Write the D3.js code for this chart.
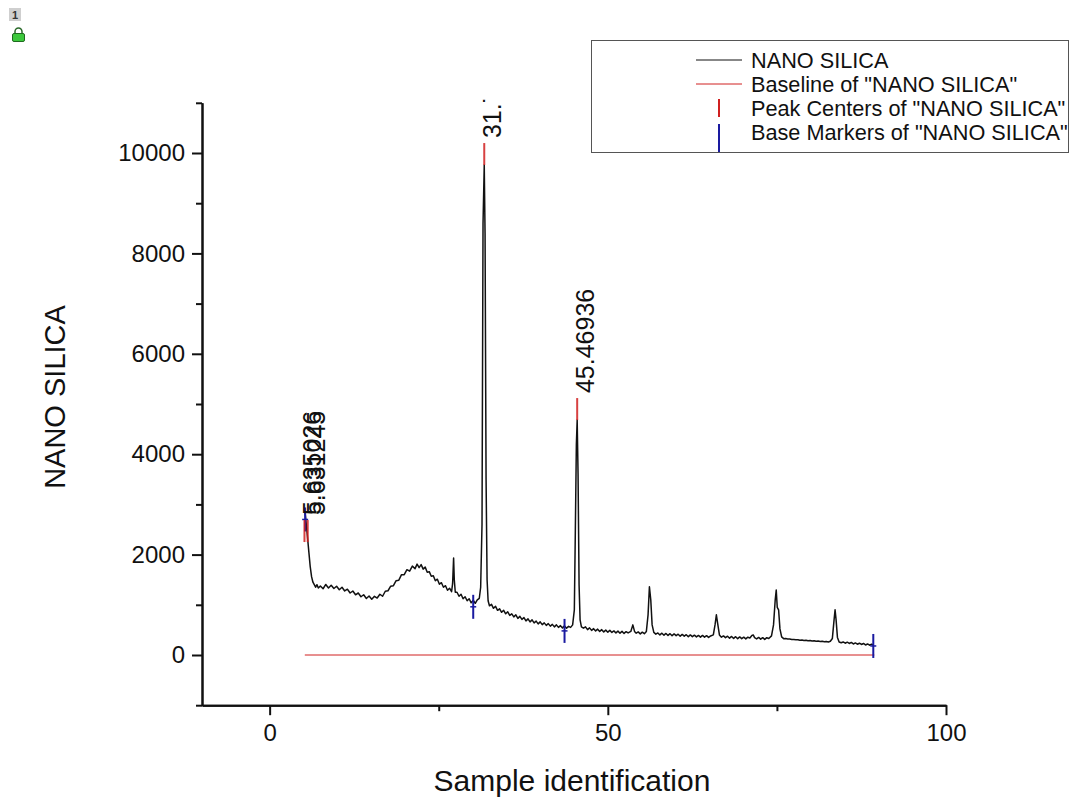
<!DOCTYPE html>
<html>
<head>
<meta charset="utf-8">
<script src="https://cdn.jsdelivr.net/npm/d3@7"></script>
<style>
  body { margin: 0; background: #fff; }
  text { font-family: "Liberation Sans", Arial, sans-serif; fill: #111; }
</style>
</head>
<body>
<script>
// Datos (2theta vs intensidad)
const spectrum = [
  [5.2, 2880], [5.3, 2760], [5.45, 2560], [5.63, 2300], [5.8, 2050], [6.0, 1760], [6.2, 1560],
  [6.4, 1450], [6.6, 1400], [6.8, 1350], [7.0, 1400], [7.2, 1335], [7.5, 1375], [7.9, 1320],
  [8.3, 1405], [8.7, 1335], [9.1, 1390], [9.5, 1325], [9.9, 1370], [10.3, 1300], [10.7, 1350],
  [11.1, 1275], [11.5, 1310], [11.9, 1235], [12.3, 1275], [12.7, 1200], [13.1, 1235], [13.5, 1160],
  [13.9, 1200], [14.3, 1125], [14.7, 1175], [15.1, 1110], [15.5, 1170], [15.9, 1135], [16.3, 1210],
  [16.7, 1170], [17.1, 1270], [17.5, 1280], [17.9, 1370], [18.3, 1380], [18.7, 1480], [19.1, 1490],
  [19.5, 1600], [19.9, 1600], [20.3, 1700], [20.7, 1670], [21.1, 1770], [21.5, 1720], [21.8, 1810],
  [22.1, 1740], [22.4, 1800], [22.7, 1710], [23.0, 1750], [23.3, 1650], [23.6, 1660], [23.9, 1570],
  [24.2, 1580], [24.5, 1480], [24.8, 1510], [25.1, 1410], [25.4, 1440], [25.7, 1350], [26.0, 1380],
  [26.3, 1290], [26.6, 1330], [26.9, 1260], [27.05, 1420], [27.2, 1930], [27.3, 1500], [27.45, 1250],
  [27.7, 1250], [28.0, 1170], [28.3, 1210], [28.6, 1120], [28.9, 1160], [29.2, 1080], [29.5, 1120],
  [29.8, 1040], [30.1, 1090], [30.4, 1030], [30.7, 1100], [31.0, 1130], [31.2, 1350], [31.4, 2600],
  [31.55, 8600], [31.73, 9760], [31.85, 8400], [32.0, 3500], [32.15, 1500], [32.3, 1080], [32.5, 980],
  [32.8, 1010], [33.1, 930], [33.4, 970], [33.7, 890], [34.0, 920], [34.3, 850], [34.6, 890],
  [34.9, 820], [35.2, 860], [35.5, 790], [35.8, 820], [36.1, 760], [36.4, 800], [36.7, 730],
  [37.0, 770], [37.3, 710], [37.6, 745], [37.9, 680], [38.2, 720], [38.5, 660], [38.8, 700],
  [39.1, 640], [39.4, 675], [39.7, 620], [40.0, 660], [40.3, 605], [40.6, 640], [40.9, 590],
  [41.2, 625], [41.5, 575], [41.8, 610], [42.1, 560], [42.4, 600], [42.7, 550], [43.0, 585],
  [43.3, 540], [43.6, 580], [43.9, 535], [44.2, 570], [44.5, 550], [44.8, 600], [45.05, 900],
  [45.2, 2500], [45.35, 4200], [45.47, 4680], [45.6, 3600], [45.75, 1400], [45.9, 700], [46.1, 560],
  [46.4, 535], [46.7, 560], [47.0, 505], [47.3, 540], [47.6, 490], [47.9, 525], [48.2, 480],
  [48.5, 515], [48.8, 470], [49.1, 505], [49.4, 460], [49.7, 495], [50.0, 455], [50.3, 490],
  [50.6, 450], [50.9, 480], [51.2, 440], [51.5, 475], [51.8, 435], [52.1, 470], [52.4, 430],
  [52.7, 465], [53.0, 440], [53.4, 470], [53.7, 600], [53.95, 470], [54.2, 435], [54.5, 460],
  [54.8, 420], [55.1, 455], [55.4, 425], [55.7, 470], [55.95, 800], [56.15, 1360], [56.35, 1100],
  [56.55, 600], [56.8, 450], [57.1, 415], [57.4, 440], [57.7, 400], [58.0, 435], [58.3, 395],
  [58.6, 430], [58.9, 390], [59.2, 425], [59.5, 385], [59.8, 420], [60.1, 385], [60.4, 415],
  [60.7, 375], [61.0, 410], [61.3, 375], [61.6, 405], [61.9, 365], [62.2, 400], [62.5, 365],
  [62.8, 395], [63.1, 360], [63.4, 390], [63.7, 355], [64.0, 390], [64.3, 355], [64.6, 385],
  [64.9, 350], [65.2, 380], [65.6, 400], [65.85, 600], [66.05, 800], [66.25, 620], [66.5, 400],
  [66.8, 355], [67.1, 380], [67.4, 345], [67.7, 375], [68.0, 335], [68.3, 370], [68.6, 330],
  [68.9, 365], [69.2, 325], [69.5, 360], [69.8, 325], [70.1, 355], [70.4, 320], [70.7, 355],
  [71.0, 340], [71.3, 390], [71.5, 400], [71.7, 345], [72.0, 320], [72.3, 350], [72.6, 315],
  [72.9, 345], [73.2, 310], [73.5, 345], [73.8, 330], [74.2, 380], [74.5, 600], [74.75, 1100],
  [74.9, 1295], [75.05, 950], [75.25, 900], [75.45, 520], [75.7, 360], [76.0, 325], [76.3, 330],
  [76.6, 320], [76.9, 320], [77.2, 310], [77.5, 310], [77.8, 305], [78.1, 305], [78.4, 295],
  [78.7, 300], [79.0, 290], [79.3, 295], [79.6, 285], [79.9, 290], [80.2, 280], [80.5, 285],
  [80.8, 275], [81.1, 280], [81.4, 270], [81.7, 275], [82.0, 265], [82.3, 270], [82.6, 260],
  [82.9, 275], [83.2, 330], [83.45, 700], [83.6, 900], [83.75, 700], [83.95, 350], [84.2, 260],
  [84.5, 245], [84.8, 260], [85.1, 235], [85.4, 255], [85.7, 230], [86.0, 250], [86.3, 220],
  [86.6, 240], [86.9, 215], [87.2, 235], [87.5, 210], [87.8, 230], [88.1, 200], [88.4, 220],
  [88.7, 195], [89.0, 215], [89.3, 195]
];

const baselineX = [5.2, 89.4];
const baselineY = [0, 0];

const peakX = [5.15, 5.63, 31.73, 45.47];
const peakY = [2250, 2250, 9760, 4680];
const peakLabels = ["5.635026", "5.631245", "31.73556", "45.46936"];

const baseX = [5.25, 30.1, 43.6, 89.25];
const baseY = [2700, 960, 480, 180];

const xMajor = [0, 50, 100];
const xMinor = [25, 75];
const yMajor = [0, 2000, 4000, 6000, 8000, 10000];
const yMinor = [-1000, 1000, 3000, 5000, 7000, 9000, 11000];

const legendItems = [
  "NANO SILICA",
  'Baseline of "NANO SILICA"',
  'Peak Centers of "NANO SILICA"',
  'Base Markers of "NANO SILICA"'
];

const WIDTH = 1071;
const HEIGHT = 798;
const PLOT = { left: 202, right: 946, top: 102.8, bottom: 705.2 };

const svg = d3.select("body")
  .append("svg")
  .attr("width", WIDTH)
  .attr("height", HEIGHT);

const escalaX = d3.scaleLinear().domain([-10, 100]).range([PLOT.left, PLOT.right]);
const escalaY = d3.scaleLinear().domain([-1000, 11000]).range([PLOT.bottom, PLOT.top]);

// icono de la esquina (capa 1 + candado)
const icono = svg.append("g");
icono.append("rect").attr("x", 9).attr("y", 8).attr("width", 12).attr("height", 13).attr("fill", "#cfcfcf");
icono.append("text").attr("x", 15).attr("y", 19).attr("text-anchor", "middle")
  .style("font-size", "11px").style("font-weight", "bold").style("fill", "#333").text("1");
icono.append("path").attr("d", "M15,34 v-2.5 a3.5,3.5 0 0 1 7,0 v2.5")
  .attr("fill", "none").attr("stroke", "#2a6a2a").attr("stroke-width", 1.5);
icono.append("rect").attr("x", 12.5).attr("y", 33.5).attr("width", 12).attr("height", 8).attr("rx", 1.5)
  .attr("fill", "#3cc83c").attr("stroke", "#1f6a1f");

// ejes
const contenedorEjeY = svg.append("g").attr("transform", `translate(${PLOT.left}, 0)`);
contenedorEjeY.call(d3.axisLeft(escalaY).tickValues(yMajor).tickSize(10).tickSizeOuter(0)
  .tickPadding(7).tickFormat(d3.format("d")));
contenedorEjeY.append("g").call(d3.axisLeft(escalaY).tickValues(yMinor).tickSize(6).tickSizeOuter(0).tickFormat(""));

const contenedorEjeX = svg.append("g").attr("transform", `translate(0, ${PLOT.bottom})`);
contenedorEjeX.call(d3.axisBottom(escalaX).tickValues(xMajor).tickSize(10).tickSizeOuter(0)
  .tickPadding(9).tickFormat(d3.format("d")));
contenedorEjeX.append("g").call(d3.axisBottom(escalaX).tickValues(xMinor).tickSize(6).tickSizeOuter(0).tickFormat(""));

svg.selectAll(".domain").attr("stroke", "#111").attr("stroke-width", 2);
svg.selectAll(".tick line").attr("stroke", "#111").attr("stroke-width", 2);
svg.selectAll(".tick text").style("font-size", "24px").style("fill", "#111");

// titulos
svg.append("text")
  .attr("x", (PLOT.left + PLOT.right) / 2 - 2)
  .attr("y", 791)
  .attr("text-anchor", "middle")
  .style("font-size", "30px")
  .text("Sample identification");

svg.append("text")
  .attr("transform", `translate(65, 397) rotate(-90)`)
  .attr("text-anchor", "middle")
  .style("font-size", "29px")
  .text("NANO SILICA");

// clip para las etiquetas que salen del area
svg.append("clipPath").attr("id", "clip")
  .append("rect").attr("x", PLOT.left).attr("y", PLOT.top - 3)
  .attr("width", PLOT.right - PLOT.left).attr("height", PLOT.bottom - PLOT.top + 3);

const contenedorVis = svg.append("g");

// linea base
contenedorVis.append("path")
  .datum(d3.zip(baselineX, baselineY))
  .attr("fill", "none")
  .attr("stroke", "#d02020")
  .attr("stroke-width", 1)
  .attr("d", d3.line().x(d => escalaX(d[0])).y(d => escalaY(d[1])));

// curva
contenedorVis.append("path")
  .datum(spectrum)
  .attr("fill", "none")
  .attr("stroke", "#111")
  .attr("stroke-width", 1.5)
  .attr("stroke-linejoin", "round")
  .attr("d", d3.line().x(d => escalaX(d[0])).y(d => escalaY(d[1])));

// marcadores de base
const bases = d3.zip(baseX, baseY);
contenedorVis.selectAll(".base-v").data(bases).join("line")
  .attr("x1", d => escalaX(d[0])).attr("x2", d => escalaX(d[0]))
  .attr("y1", d => escalaY(d[1]) - 12).attr("y2", d => escalaY(d[1]) + 12)
  .attr("stroke", "#1a1aa0").attr("stroke-width", 2);
contenedorVis.selectAll(".base-h").data(bases).join("line")
  .attr("x1", d => escalaX(d[0]) - 3).attr("x2", d => escalaX(d[0]) + 3)
  .attr("y1", d => escalaY(d[1])).attr("y2", d => escalaY(d[1]))
  .attr("stroke", "#1a1aa0").attr("stroke-width", 1.5);

// centros de pico y etiquetas
const picos = d3.zip(peakX, peakY, peakLabels);
contenedorVis.selectAll(".peak").data(picos).join("line")
  .attr("x1", d => escalaX(d[0])).attr("x2", d => escalaX(d[0]))
  .attr("y1", d => escalaY(d[1])).attr("y2", d => escalaY(d[1]) - 22)
  .attr("stroke", "#d02020").attr("stroke-width", 2)
  .attr("stroke-opacity", 0.85);

svg.append("g").attr("clip-path", "url(#clip)")
  .selectAll("text").data(picos).join("text")
  .attr("transform", d => `translate(${escalaX(d[0]) + 17}, ${escalaY(d[1]) - 27}) rotate(-90)`)
  .style("font-size", "25px")
  .text(d => d[2]);

// leyenda
const leyenda = svg.append("g");
leyenda.append("rect")
  .attr("x", 591.5).attr("y", 40.5).attr("width", 477).attr("height", 112)
  .attr("fill", "#fff").attr("stroke", "#555").attr("stroke-width", 1);

const filaY = i => 60 + i * 24;
leyenda.selectAll("text").data(legendItems).join("text")
  .attr("x", 751)
  .attr("y", (d, i) => filaY(i) + 7.5)
  .style("font-size", "21.7px")
  .text(d => d);

leyenda.append("line").attr("x1", 696).attr("x2", 742).attr("y1", filaY(0)).attr("y2", filaY(0))
  .attr("stroke", "#111").attr("stroke-width", 1);
leyenda.append("line").attr("x1", 696).attr("x2", 742).attr("y1", filaY(1)).attr("y2", filaY(1))
  .attr("stroke", "#d02020").attr("stroke-width", 1);
leyenda.append("line").attr("x1", 719).attr("x2", 719).attr("y1", filaY(2) - 9).attr("y2", filaY(2) + 9)
  .attr("stroke", "#d02020").attr("stroke-width", 2);
leyenda.append("line").attr("x1", 719).attr("x2", 719).attr("y1", filaY(3) - 8).attr("y2", filaY(3) + 20)
  .attr("stroke", "#1a1aa0").attr("stroke-width", 2);
</script>
</body>
</html>
